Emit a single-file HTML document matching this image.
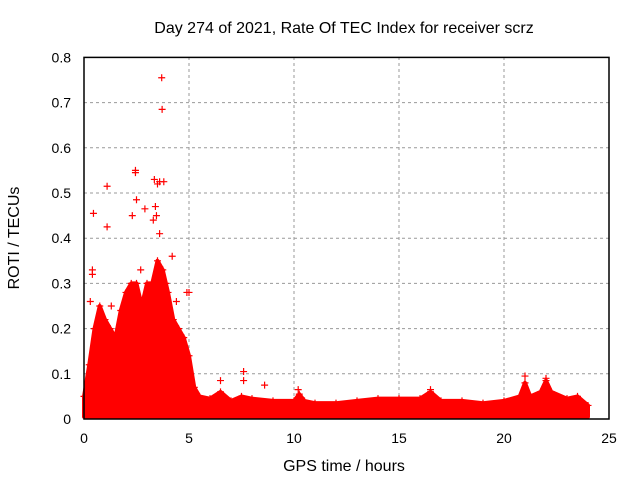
<!DOCTYPE html>
<html><head><meta charset="utf-8"><style>
body{margin:0;background:#fff;}
svg text{font-family:"Liberation Sans",sans-serif;font-size:14px;fill:#000;}
svg text.big{font-size:16px;}
</style></head><body>
<svg id="chart" width="640" height="480" xmlns="http://www.w3.org/2000/svg">
<text class="big" x="344" y="33" text-anchor="middle">Day 274 of 2021, Rate Of TEC Index for receiver scrz</text>
<g id="grid"></g>
<g id="marks"></g>
<rect x="84" y="57.4" width="525" height="361.6" fill="none" stroke="#000" stroke-width="1.5"/>
<g id="ticks"></g>
<text class="big" x="344" y="471" text-anchor="middle">GPS time / hours</text>
<text class="big" transform="translate(19,238) rotate(-90)" text-anchor="middle">ROTI / TECUs</text>
</svg>
<script>
const xTicks=[0,5,10,15,20,25];
const yTicks=[0,0.1,0.2,0.3,0.4,0.5,0.6,0.7,0.8];
const envHours=[0,0.25,0.5,0.75,1,1.25,1.5,1.75,2,2.25,2.5,2.75,3,3.25,3.5,3.75,4,4.25,4.5,4.75,5,5.25,5.5,6,6.5,7,7.5,8,9,10,10.25,10.5,11,12,13,14,15,16,16.5,17,18,19,20,20.75,21,21.25,21.75,22,22.25,23,23.5,24];
const envTop=[0.05,0.12,0.2,0.25,0.22,0.2,0.18,0.24,0.28,0.3,0.3,0.25,0.3,0.3,0.35,0.33,0.28,0.22,0.2,0.18,0.14,0.07,0.05,0.045,0.06,0.04,0.05,0.045,0.04,0.04,0.055,0.04,0.035,0.035,0.04,0.045,0.045,0.045,0.06,0.04,0.04,0.035,0.04,0.05,0.08,0.05,0.06,0.085,0.06,0.045,0.05,0.03];
const outX=[3.7,3.72,2.45,2.45,1.1,0.45,1.1,3.35,3.6,3.8,3.5,2.5,2.3,2.9,3.4,3.45,3.3,3.6,4.2,0.4,0.4,4.9,5.0,7.6,7.6,8.6,6.5,0.3,1.3,1.9,2.7,3.9,4.4,21,22,16.5,10.2];
const outY=[0.755,0.685,0.55,0.545,0.515,0.455,0.425,0.53,0.525,0.525,0.52,0.485,0.45,0.465,0.47,0.45,0.44,0.41,0.36,0.33,0.32,0.28,0.28,0.105,0.085,0.075,0.085,0.26,0.25,0.23,0.33,0.3,0.26,0.095,0.09,0.065,0.065];
const NS="http://www.w3.org/2000/svg";
const X=h=>84+h*21, Y=v=>419-v*452;
const grid=document.getElementById('grid'),ticks=document.getElementById('ticks'),marks=document.getElementById('marks');
function mk(t,a,p){const e=document.createElementNS(NS,t);for(const k in a)e.setAttribute(k,a[k]);p.appendChild(e);return e;}
xTicks.forEach(t=>{
 if(t>0&&t<25){const l=mk('line',{x1:X(t),x2:X(t),y1:57,y2:419,stroke:'#999','stroke-dasharray':'3,3'},grid);
 
 }
 const tx=mk('text',{x:X(t),y:443,'text-anchor':'middle'},ticks);tx.textContent=t;
 
 
});
yTicks.forEach(t=>{
 if(t>0&&t<0.8){const l=mk('line',{x1:84,x2:609,y1:Y(t),y2:Y(t),stroke:'#999','stroke-dasharray':'3,3'},grid);
 
 }
 const tx=mk('text',{x:71,y:Y(t)+5,'text-anchor':'end'},ticks);tx.textContent=t;
 
 
});
let d='M'+X(envHours[0])+','+Y(0.005);
envHours.forEach((h,i)=>{d+=' L'+X(h)+','+Y(envTop[i]);});
d+=' L'+X(envHours[envHours.length-1])+','+Y(0.005)+' Z';
const area=mk('path',{d:d,fill:'#f00',stroke:'#f00','stroke-width':4,'stroke-linejoin':'round'},marks);


function plus(h,v){const p=mk('path',{d:`M${X(h)-3.5},${Y(v)}h7M${X(h)},${Y(v)-3.5}v7`,stroke:'#f00','stroke-width':1.2},marks);
 
 }
envHours.forEach((h,i)=>plus(h,envTop[i]));
outX.forEach((h,i)=>plus(h,outY[i]));
</script>
</body></html>
